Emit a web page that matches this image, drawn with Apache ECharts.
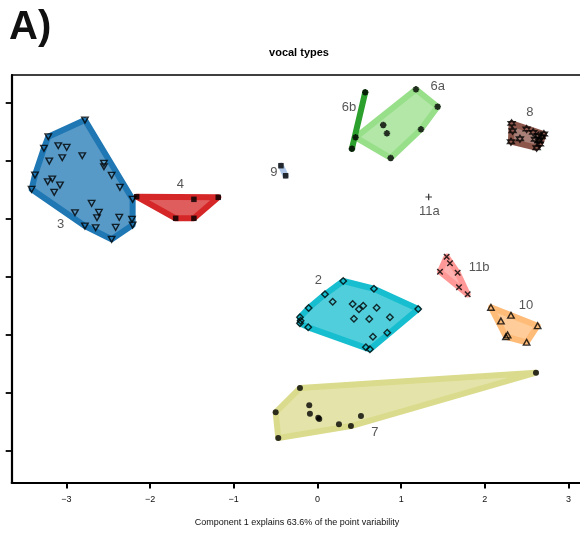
<!DOCTYPE html>
<html>
<head>
<meta charset="utf-8">
<script src="https://cdn.jsdelivr.net/npm/echarts@6/dist/echarts.min.js"></script>
<style>
  html, body { margin: 0; padding: 0; background: #fff; }
  #chart { width: 580px; height: 535px; }
</style>
</head>
<body>
<div id="chart"></div>
<script>
// Scores on components 1 and 2, one list per vocal type
const type2 = [[0.308,2.926],[0.675,2.793],[1.204,2.444],[0.090,2.697],[-0.105,2.461],[-0.209,2.301],[-0.201,2.243],[-0.209,2.198],[-0.110,2.129],[0.579,1.785],[0.627,1.750],[0.182,2.570],[0.421,2.530],[0.547,2.501],[0.496,2.439],[0.707,2.466],[0.436,2.277],[0.619,2.272],[0.866,2.301],[0.834,2.036],[0.663,1.967]];
const type3 = [[-2.778,5.697],[-3.216,5.410],[-3.268,5.210],[-3.375,4.750],[-3.415,4.504],[-2.897,4.102],[-2.778,3.873],[-2.650,3.843],[-2.459,3.644],[-2.411,3.850],[-2.208,3.890],[-2.216,3.988],[-2.208,4.332],[-3.097,5.255],[-2.996,5.227],[-3.204,4.991],[-3.049,5.048],[-2.810,5.083],[-2.551,4.952],[-2.551,4.893],[-2.459,4.745],[-2.360,4.539],[-3.168,4.682],[-3.223,4.635],[-3.076,4.578],[-3.145,4.453],[-2.698,4.263],[-2.611,4.108],[-2.634,4.016],[-2.368,4.022]];
const type4 = [[-2.160,4.377],[-1.185,4.367],[-1.476,4.332],[-1.694,4.005],[-1.476,4.005]];
const type6a = [[1.177,6.226],[1.436,5.926],[1.237,5.537],[0.875,5.043],[0.456,5.399],[0.786,5.611],[0.830,5.468]];
const type6b = [[0.571,6.174],[0.412,5.203]];
const type7 = [[2.611,1.348],[-0.209,1.084],[-0.499,0.666],[-0.468,0.224],[-0.098,0.787],[-0.090,0.642],[0.010,0.573],[0.022,0.551],[0.257,0.460],[0.400,0.430],[0.520,0.602]];
const type8 = [[2.320,5.640],[2.332,5.513],[2.312,5.324],[2.419,5.375],[2.499,5.542],[2.578,5.485],[2.638,5.427],[2.706,5.456],[2.599,5.365],[2.646,5.341],[2.658,5.284],[2.619,5.220],[2.679,5.410]];
const type9 = [[-0.436,4.911],[-0.380,4.738]];
const type10 = [[2.073,2.473],[2.312,2.336],[2.192,2.238],[2.631,2.157],[2.272,1.997],[2.252,1.967],[2.499,1.871]];
const type11a = [[1.329,4.372]];
const type11b = [[1.544,3.344],[1.583,3.231],[1.464,3.086],[1.675,3.069],[1.691,2.818],[1.795,2.697]];

const typeNames = ['2','3','4','6a','6b','7','8','9','10','11a','11b'];
const typePoints = [type2, type3, type4, type6a, type6b, type7, type8, type9, type10, type11a, type11b];
// anchor of each type's name on the score plane
const nameAnchors = [[0.010,2.931],[-3.068,3.902],[-1.639,4.596],[1.436,6.270],[0.376,5.916],[0.687,0.322],[2.539,5.830],[-0.520,4.797],[2.491,2.513],[1.336,4.119],[1.933,3.155]];

const xTicks = [-3,-2,-1,0,1,2,3];
const yTicks = [0,1,2,3,4,5,6];

// hull colours per vocal type
const hullColors = ['#17becf','#1f77b4','#d62728','#98df8a','#2ca02c','#dbdb8d','#8c564b','#aec7e8','#ffbb78','#c5b0d5','#ff9896'];
// marker per vocal type
const markers = [
  {symbol: 'path://M5,0 L10,5 L5,10 L0,5 Z', size: [6.5,6.5], open: true},
  {symbol: 'path://M0,0 L10,0 L5,8.66 Z', size: [6.5,5.8], open: true},
  {symbol: 'rect', size: 5.5, open: false},
  {symbol: 'path://M0,5 L10,5 M5,0 L5,10 M1.5,1.5 L8.5,8.5 M8.5,1.5 L1.5,8.5', size: 6.5, open: true, lw: 1.8},
  {symbol: 'path://M0,5 L10,5 M5,0 L5,10 M1.5,1.5 L8.5,8.5 M8.5,1.5 L1.5,8.5', size: 6.5, open: true, lw: 1.8},
  {symbol: 'circle', size: 6, open: false},
  {symbol: 'path://M5,0 L10,7.5 L0,7.5 Z M0,2.5 L10,2.5 L5,10 Z', size: [7,7], open: true},
  {symbol: 'rect', size: 5.5, open: false},
  {symbol: 'path://M5,0 L10,8.66 L0,8.66 Z', size: [6.5,5.8], open: true},
  {symbol: 'path://M5,0 L5,10 M0,5 L10,5', size: 6.5, open: true, lw: 1.2},
  {symbol: 'path://M0,0 L10,10 M10,0 L0,10', size: 5.5, open: true, lw: 1.5}
];

function convexHull(points) {
  const p = points.slice().sort((a, b) => a[0] - b[0] || a[1] - b[1]);
  if (p.length < 3) return p;
  const cross = (o, a, b) => (a[0]-o[0])*(b[1]-o[1]) - (a[1]-o[1])*(b[0]-o[0]);
  const lower = [], upper = [];
  for (const q of p) {
    while (lower.length >= 2 && cross(lower[lower.length-2], lower[lower.length-1], q) <= 0) lower.pop();
    lower.push(q);
  }
  for (let i = p.length - 1; i >= 0; i--) {
    const q = p[i];
    while (upper.length >= 2 && cross(upper[upper.length-2], upper[upper.length-1], q) <= 0) upper.pop();
    upper.push(q);
  }
  upper.pop(); lower.pop();
  return lower.concat(upper);
}

function withAlpha(hex, a) {
  const n = parseInt(hex.slice(1), 16);
  return 'rgba(' + ((n >> 16) & 255) + ',' + ((n >> 8) & 255) + ',' + (n & 255) + ',' + a + ')';
}

const chart = echarts.init(document.getElementById('chart'), null, {renderer: 'canvas'});

const hullSeries = {
  type: 'custom',
  silent: true,
  z: 1,
  data: typePoints.map((pts, i) => [i, 0]).filter(d => typePoints[d[0]].length > 1),
  renderItem: function (params, api) {
    const idx = api.value(0);
    const pts = convexHull(typePoints[idx]).map(p => api.coord(p));
    const c = hullColors[idx];
    return {
      type: 'polygon',
      shape: {points: pts},
      style: {fill: withAlpha(c, 0.75), stroke: c, lineWidth: 6, lineJoin: 'round'}
    };
  }
};

const pointSeries = typePoints.map((pts, i) => {
  const m = markers[i];
  return {
    type: 'scatter',
    name: typeNames[i],
    silent: true,
    z: 3,
    data: pts,
    symbol: m.symbol,
    symbolSize: m.size,
    itemStyle: {
      color: m.open ? 'rgba(0,0,0,0)' : '#000',
      borderColor: '#000',
      borderWidth: m.open ? (m.lw || 1.4) : 0
    }
  };
});

const nameSeries = {
  type: 'scatter',
  silent: true,
  z: 4,
  symbolSize: 0,
  data: nameAnchors.map((p, i) => ({value: p, name: typeNames[i]})),
  label: {
    show: true,
    position: 'inside',
    formatter: '{b}',
    color: '#2b2b2b',
    fontSize: 13,
    fontFamily: 'Liberation Sans, Arial, sans-serif'
  }
};

const fmtMinus = v => String(v).replace('-', '\u2212');

chart.setOption({
  animation: false,
  backgroundColor: '#fff',
  grid: {left: 11.7, right: 0, top: 75, bottom: 52.5},
  xAxis: [{
    type: 'value',
    min: -3.653, max: 3.137,
    axisLine: {show: true, onZero: false, lineStyle: {color: '#000', width: 2.2}},
    axisTick: {show: true, customValues: xTicks, length: 6, lineStyle: {color: '#000', width: 2}},
    axisLabel: {show: true, customValues: xTicks, formatter: fmtMinus, margin: 13, fontSize: 9,
                color: '#111', fontFamily: 'Liberation Sans, Arial, sans-serif'},
    splitLine: {show: false}
  }, {
    type: 'value',
    position: 'top',
    min: -3.653, max: 3.137,
    axisLine: {show: true, onZero: false, lineStyle: {color: '#000', width: 1.6}},
    axisTick: {show: false},
    axisLabel: {show: false},
    splitLine: {show: false}
  }],
  yAxis: {
    type: 'value',
    min: -0.542, max: 6.472,
    axisLine: {show: true, onZero: false, lineStyle: {color: '#000', width: 2.2}},
    axisTick: {show: true, customValues: yTicks, length: 6, lineStyle: {color: '#000', width: 1.8}},
    axisLabel: {show: false},
    splitLine: {show: false}
  },
  graphic: [
    {type: 'text', left: 9, top: 8, style: {text: 'A)', font: 'bold 40px Liberation Sans, Arial, sans-serif', fill: '#111'}},
    {type: 'text', x: 299, y: 53, style: {text: 'vocal types', font: 'bold 11px Liberation Sans, Arial, sans-serif', fill: '#000', align: 'center', verticalAlign: 'middle'}},
    {type: 'text', x: 297, y: 523, style: {text: 'Component 1 explains 63.6% of the point variability', font: '9px Liberation Sans, Arial, sans-serif', fill: '#111', align: 'center', verticalAlign: 'middle'}}
  ],
  series: [hullSeries].concat(pointSeries, [nameSeries])
});
</script>
</body>
</html>
